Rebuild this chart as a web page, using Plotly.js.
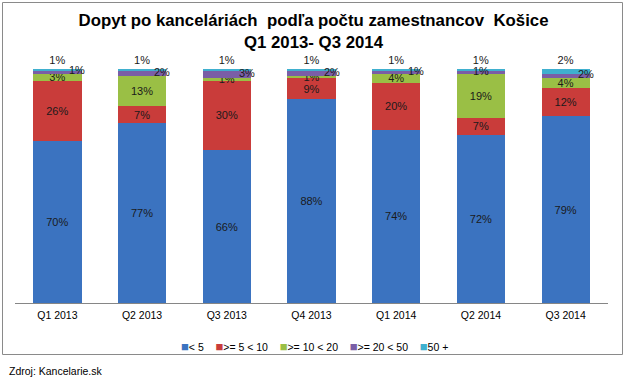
<!DOCTYPE html>
<html>
<head>
<meta charset="utf-8">
<script src="https://cdn.plot.ly/plotly-3.0.1.min.js"></script>
<style>html,body{margin:0;padding:0;background:#fff}#chart{width:627px;height:380px}</style>
</head>
<body>
<div id="chart"></div>
<script>
const categories = ['Q1 2013','Q2 2013','Q3 2013','Q4 2013','Q1 2014','Q2 2014','Q3 2014'];
const seriesNames = ['< 5','>= 5 < 10','>= 10 < 20','>= 20 < 50','50 +'];
const lt5      = [70, 77, 66, 88, 74, 72, 79];
const s5to10   = [26,  7, 30,  9, 20,  7, 12];
const s10to20  = [ 3, 13,  1,  1,  4, 19,  4];
const s20to50  = [ 1,  2,  3,  2,  1,  1,  2];
const s50plus  = [ 1,  1,  1,  1,  1,  1,  2];

const series = [lt5, s5to10, s10to20, s20to50, s50plus];
const colors = ['#3b73c0', '#c93c3a', '#9abf45', '#7a5ea6', '#3fb0cf'];
const FONT = 'Liberation Sans, Arial, sans-serif';
const textColor = '#1a1a1a';

// plot area in pixels: x 15..608, y 69..303
const L = 15, R = 19, T = 69, B = 77, W = 627, H = 380;
const pw = W - L - R, ph = H - T - B;
const px2x = p => (p - L) / pw;
const py2y = p => (H - B - p) / ph;

const traces = series.map((vals, i) => {
  const t = {
    type: 'bar',
    name: seriesNames[i],
    x: categories,
    y: vals,
    marker: {color: colors[i], line: {width: 0}},
    text: vals.map(v => v + '%'),
    texttemplate: '%{text}',
    textfont: {family: FONT, size: 11, color: textColor},
    constraintext: 'none',
    hoverinfo: 'x+name+text'
  };
  if (i <= 2) { t.textposition = 'inside'; t.insidetextanchor = 'middle'; }
  else if (i === 3) { t.textposition = 'none'; }
  else { t.textposition = 'outside'; t.cliponaxis = false; }
  return t;
});

// labels for the ">= 20 < 50" series, beside the bar (normalized stack position)
const purpleShift = [20, 20, 20, 20, 20, 0, 20];
const annotations = categories.map((c, k) => {
  const total = series.reduce((a, s) => a + s[k], 0);
  const below = lt5[k] + s5to10[k] + s10to20[k];
  return {
    x: c, xref: 'x', y: (below + s20to50[k] / 2) / total * 100, yref: 'y',
    text: s20to50[k] + '%', showarrow: false,
    xshift: purpleShift[k], yshift: 2,
    font: {family: FONT, size: 11, color: textColor}
  };
});

// compact Excel-style legend
const sp = '\u00a0\u00a0\u00a0\u00a0';
const legendText = seriesNames.map((n, i) =>
  '<span style="color:' + colors[i] + ';font-size:13px">■</span>' + n.replace(/ /g, '\u00a0')
).join(sp);
annotations.push({
  xref: 'paper', yref: 'paper', x: px2x(314), y: py2y(346),
  xanchor: 'center', yanchor: 'middle', showarrow: false,
  text: legendText, font: {family: FONT, size: 10.5, color: '#000'}
});

annotations.push({
  xref: 'paper', yref: 'paper', x: px2x(7), y: py2y(371),
  xanchor: 'left', yanchor: 'middle', showarrow: false,
  text: 'Zdroj: Kancelarie.sk', font: {family: FONT, size: 10.5, color: '#000'}
});

const layout = {
  width: W, height: H,
  margin: {l: L, r: R, t: T, b: B, pad: 0},
  paper_bgcolor: '#fff', plot_bgcolor: '#fff',
  barmode: 'stack', barnorm: 'percent', bargap: 0.43,
  title: {
    text: '<b>Dopyt po kanceláriách \u00a0podľa počtu zamestnancov \u00a0Košice</b><br><b>Q1 2013- Q3 2014</b>',
    font: {family: FONT, size: 16.8, color: '#000'},
    x: 0.5, xref: 'container', xanchor: 'center',
    y: 1 - 26 / H, yref: 'container', yanchor: 'top'
  },
  xaxis: {
    type: 'category', showline: true, linecolor: '#868686', linewidth: 1,
    ticks: '', showgrid: false, zeroline: false, ticklabelstandoff: 2,
    tickfont: {family: FONT, size: 10.5, color: '#000'}
  },
  yaxis: {visible: false, range: [0, 100], showgrid: false, zeroline: false},
  showlegend: false,
  annotations: annotations,
  shapes: [{
    type: 'rect', xref: 'paper', yref: 'paper', layer: 'below',
    x0: px2x(2.5), x1: px2x(622.5), y0: py2y(354.5), y1: py2y(2.5),
    line: {color: '#8a8a8a', width: 1}, fillcolor: 'rgba(0,0,0,0)'
  }]
};

Plotly.newPlot('chart', traces, layout, {displayModeBar: false, staticPlot: true});
</script>
</body>
</html>
